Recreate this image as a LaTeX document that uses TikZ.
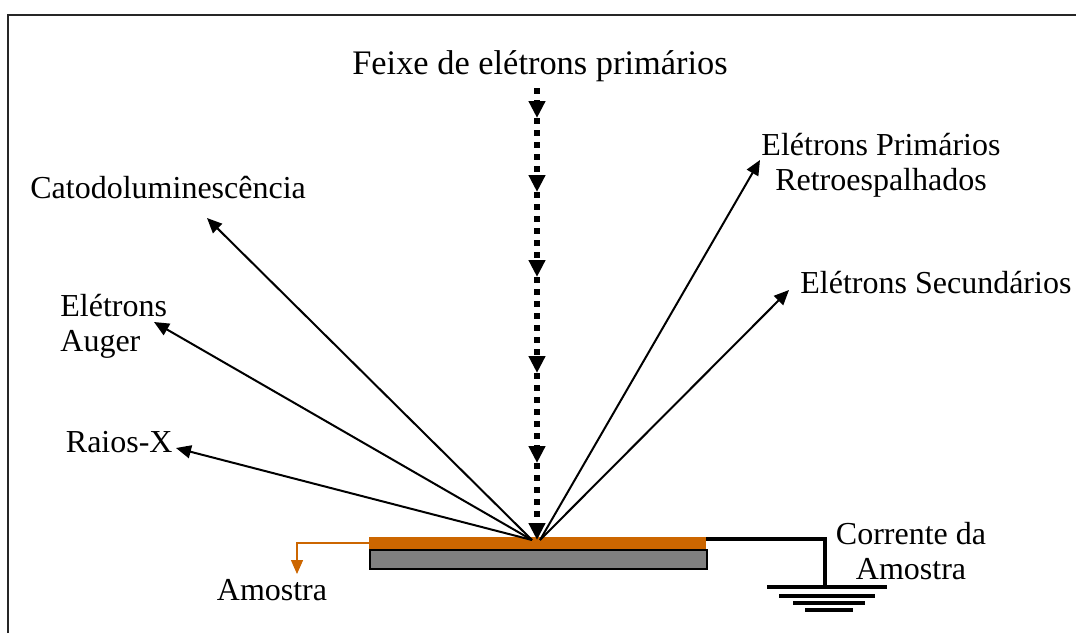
\documentclass[tikz,border=0pt]{standalone}
\usepackage{fontspec}
\setmainfont{Liberation Serif}
\usetikzlibrary{arrows.meta}
\definecolor{amber}{HTML}{CC6600}
\definecolor{slab}{HTML}{808080}
\tikzset{
  lbl/.style={inner sep=0pt, font=\fontsize{16}{17.5}\selectfont},
  emit/.style={line width=1pt, -{Triangle[length=7.5pt,width=6.5pt]}},
  beam/.style={line width=3pt, dash pattern=on 3pt off 3pt, -{Triangle[length=8.5pt,width=8pt]}},
  wire/.style={line width=1.6pt},
}
\begin{document}
\begin{tikzpicture}[x=0.5pt,y=-0.5pt]
\useasboundingbox (0,0) rectangle (1076,633);
% frame (top and left edges)
\draw[line width=1pt, black!85] (8,633) -- (8,15) -- (1076,15);

% sample
\node[draw=black, line width=0.8pt, fill=slab, minimum width=337*0.5pt, minimum height=19*0.5pt, inner sep=0pt, anchor=north west] (base) at (369,549) {};
\node[fill=amber, minimum width=337*0.5pt, minimum height=12*0.5pt, inner sep=0pt, anchor=north west] (layer) at (369,537) {};

% beam
\coordinate (b0) at (537,88);
\coordinate (b1) at (537,118);
\coordinate (b2) at (537,192);
\coordinate (b3) at (537,277);
\coordinate (b4) at (537,373);
\coordinate (b5) at (537,463);
\coordinate (hit) at (537,540);
\draw[beam] (b0) -- (b1);
\draw[beam] (b1) -- (b2);
\draw[beam] (b2) -- (b3);
\draw[beam] (b3) -- (b4);
\draw[beam] (b4) -- (b5);
\draw[beam] (b5) -- (hit);

% emission tips
\coordinate (hl) at (532,540);
\coordinate (hr) at (540,540);
\coordinate (tCat) at (207,218);
\coordinate (tAug) at (154,322);
\coordinate (tRx) at (176,448);
\coordinate (tRet) at (760,160);
\coordinate (tSec) at (789,290);
\draw[emit] (hl) -- (tCat);
\draw[emit] (hl) -- (tAug);
\draw[emit] (hl) -- (tRx);
\draw[emit] (hr) -- (tRet);
\draw[emit] (hr) -- (tSec);

% labels
\node[lbl, font=\fontsize{17.2}{19}\selectfont] (feixe) at (540,66) {Feixe de elétrons primários};
\node[lbl, anchor=west] (cat) at (30,188) {Catodoluminescência};
\node[lbl, anchor=west, align=left] (aug) at (60,326) {Elétrons\\Auger};
\node[lbl, anchor=east] (rx) at (173,442) {Raios-X};
\node[lbl, align=center] (ret) at (881,165) {Elétrons Primários\\Retroespalhados};
\node[lbl, anchor=west] (sec) at (800,283) {Elétrons Secundários};
\node[lbl, align=center] (cor) at (911,551) {Corrente da\\Amostra};
\node[lbl] (amo) at (272,590) {Amostra};

% orange lead
\coordinate (oc) at (297,543);
\coordinate (ot) at (297,574);
\draw[amber, line width=0.7pt, -{Triangle[length=7pt,width=6pt]}] (369,543) -- (oc) -- (ot);

% ground wire
\coordinate (gc) at (825,539);
\coordinate (gg) at (825,587);
\draw[wire] (706,539) -- (gc) -- (gg);
\draw[wire] (767,587) -- (887,587);
\draw[wire] (779,596) -- (875,596);
\draw[wire] (793,603) -- (865,603);
\draw[wire] (805,610) -- (853,610);
\end{tikzpicture}
\end{document}
